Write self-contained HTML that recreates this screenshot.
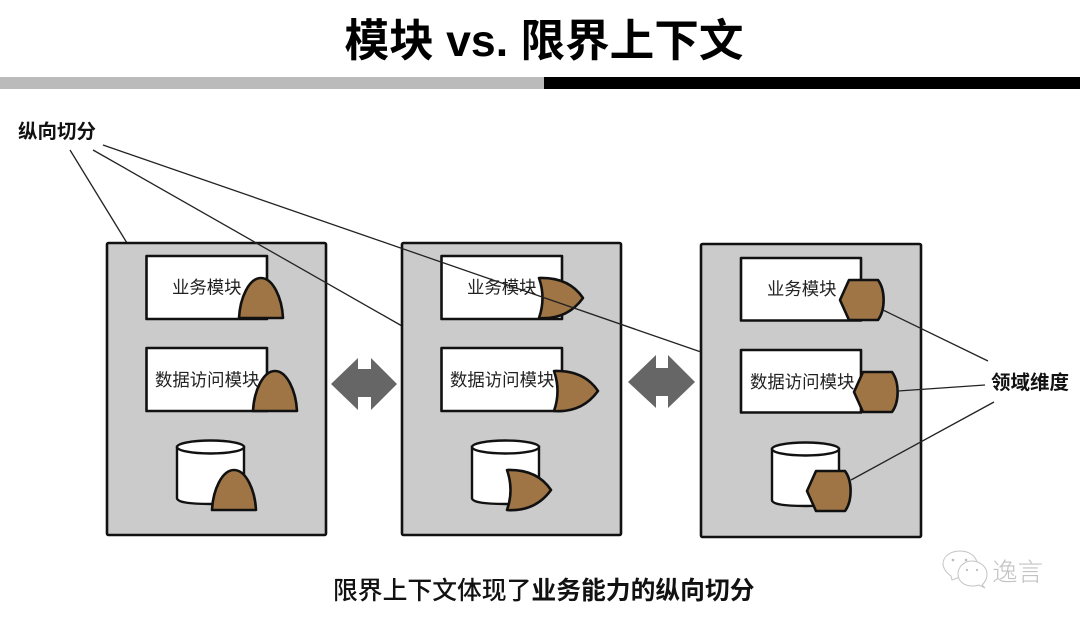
<!DOCTYPE html>
<html><head><meta charset="utf-8">
<style>
html,body{margin:0;padding:0;background:#fff;width:1080px;height:619px;overflow:hidden}
svg{display:block}
text{font-family:"Liberation Sans","Noto Sans CJK SC",sans-serif;fill:#111}
.m{font-size:17.4px;fill:#222}
.b{stroke:#111;stroke-width:2.6;stroke-linejoin:round}
.s{fill:#9f7545;stroke:#111;stroke-width:2.6;stroke-linejoin:round}
.p{fill:#cbcbcb}
.w{fill:#fff}
.l{stroke:#222;stroke-width:1.3;fill:none}
</style></head><body>
<svg width="1080" height="619" viewBox="0 0 1080 619" xmlns="http://www.w3.org/2000/svg">
<defs>
<path id="semi" d="M0,40 C1,20 10,0 22,0 C34,0 43,20 44,40 Z"/>
<path id="or" d="M0,0 Q7,20 0,40 Q28,42 44,20 Q30,-1 0,0 Z"/>
<path id="hex" d="M0,20 L9,0 L38,0 C45.500,10 45.500,30 38,40 L9,40 Z"/>
<g id="cyl">
<path d="M0,7 L0,58 Q0,64 34,64 Q67,64 67,58 L67,7 Z" fill="#fff" stroke="#111" stroke-width="2.400"/>
<ellipse cx="33.500" cy="7" rx="33.500" ry="6.500" fill="#fff" stroke="#111" stroke-width="2.400"/>
</g>
</defs>

<text x="544" y="56" text-anchor="middle" font-size="44.600" font-weight="700" style="fill:#000">模块 vs. 限界上下文</text>
<rect x="0" y="77" width="544" height="12" fill="#bbb"/>
<rect x="544" y="77" width="536" height="12" fill="#000"/>

<text x="18" y="138" font-size="19.500" font-weight="700">纵向切分</text>
<text x="991" y="389" font-size="19.500" font-weight="700">领域维度</text>

<line class="l" x1="70" y1="150" x2="127" y2="243"/>

<!-- Panel 1 -->
<rect class="p b" x="107" y="243" width="219" height="292" rx="1.500"/>
<rect class="w b" x="146.500" y="256" width="120.500" height="63"/>
<text class="m" x="172" y="293.500">业务模块</text>
<use href="#semi" class="s" x="239" y="278"/>
<rect class="w b" x="146.500" y="348" width="120.500" height="63"/>
<text class="m" x="155" y="386">数据访问模块</text>
<use href="#semi" class="s" x="253" y="371"/>
<use href="#cyl" x="177" y="440"/>
<use href="#semi" class="s" x="212" y="470"/>

<line class="l" x1="93" y1="150" x2="402" y2="326"/>

<!-- Panel 2 -->
<rect class="p b" x="402" y="243" width="219" height="292" rx="1.500"/>
<rect class="w b" x="441.500" y="256" width="120.500" height="63"/>
<text class="m" x="467" y="293.500">业务模块</text>
<use href="#or" class="s" x="539" y="278"/>
<rect class="w b" x="441.500" y="348" width="120.500" height="63"/>
<text class="m" x="450" y="386">数据访问模块</text>
<use href="#or" class="s" x="554" y="371"/>
<use href="#cyl" x="472" y="440"/>
<use href="#or" class="s" x="507" y="470"/>

<!-- Panel 3 -->
<rect class="p b" x="701" y="244" width="220" height="293" rx="1.500"/>
<rect class="w b" x="741" y="258" width="120" height="62.500"/>
<text class="m" x="767" y="295">业务模块</text>
<use href="#hex" class="s" x="840" y="280"/>
<rect class="w b" x="741" y="350" width="120" height="62.500"/>
<text class="m" x="750" y="388">数据访问模块</text>
<use href="#hex" class="s" x="854" y="372"/>
<use href="#cyl" x="772" y="442"/>
<use href="#hex" class="s" x="807" y="471"/>

<!-- connectors on top -->
<line class="l" x1="103" y1="145" x2="701" y2="352"/>
<line class="l" x1="883" y1="310" x2="988" y2="361"/>
<line class="l" x1="898" y1="391" x2="985" y2="385"/>
<line class="l" x1="851" y1="480" x2="994" y2="402"/>

<!-- double arrows -->
<polygon fill="#666" points="331,384 358,358 358,369 371,369 371,358 397,384 371,410 371,397 358,397 358,410"/>
<polygon fill="#666" points="628,382 656,355 656,368 668,368 668,355 695,382 668,408 668,396 656,396 656,408"/>

<text x="333" y="599" font-size="24.800" font-weight="500">限界上下文体现了<tspan font-weight="700">业务能力的纵向切分</tspan></text>

<!-- watermark -->
<g fill="#fff" stroke="#c4c4c4" stroke-width="1">
<path d="M951,576 C944,571 943,566 943,564 C943,556 951,551 960,551 C970,551 977,557 977,564 C977,572 970,577 960,577 L952,580 Z"/>
<path d="M982,585 C986,581 987,578 987,574 C987,567 980,561 972,561 C964,561 958,567 958,574 C958,581 964,586 972,586 C975,586 977,586 979,585 L985,588 Z"/>
</g>
<g fill="#bbb"><circle cx="953" cy="560" r="1.300"/><circle cx="966" cy="560" r="1.300"/><circle cx="967" cy="570" r="1.100"/><circle cx="977" cy="570" r="1.100"/></g>
<text x="992" y="581" font-size="25.500" font-weight="300" style="fill:#c2c2c2">逸言</text>
</svg>
</body></html>
